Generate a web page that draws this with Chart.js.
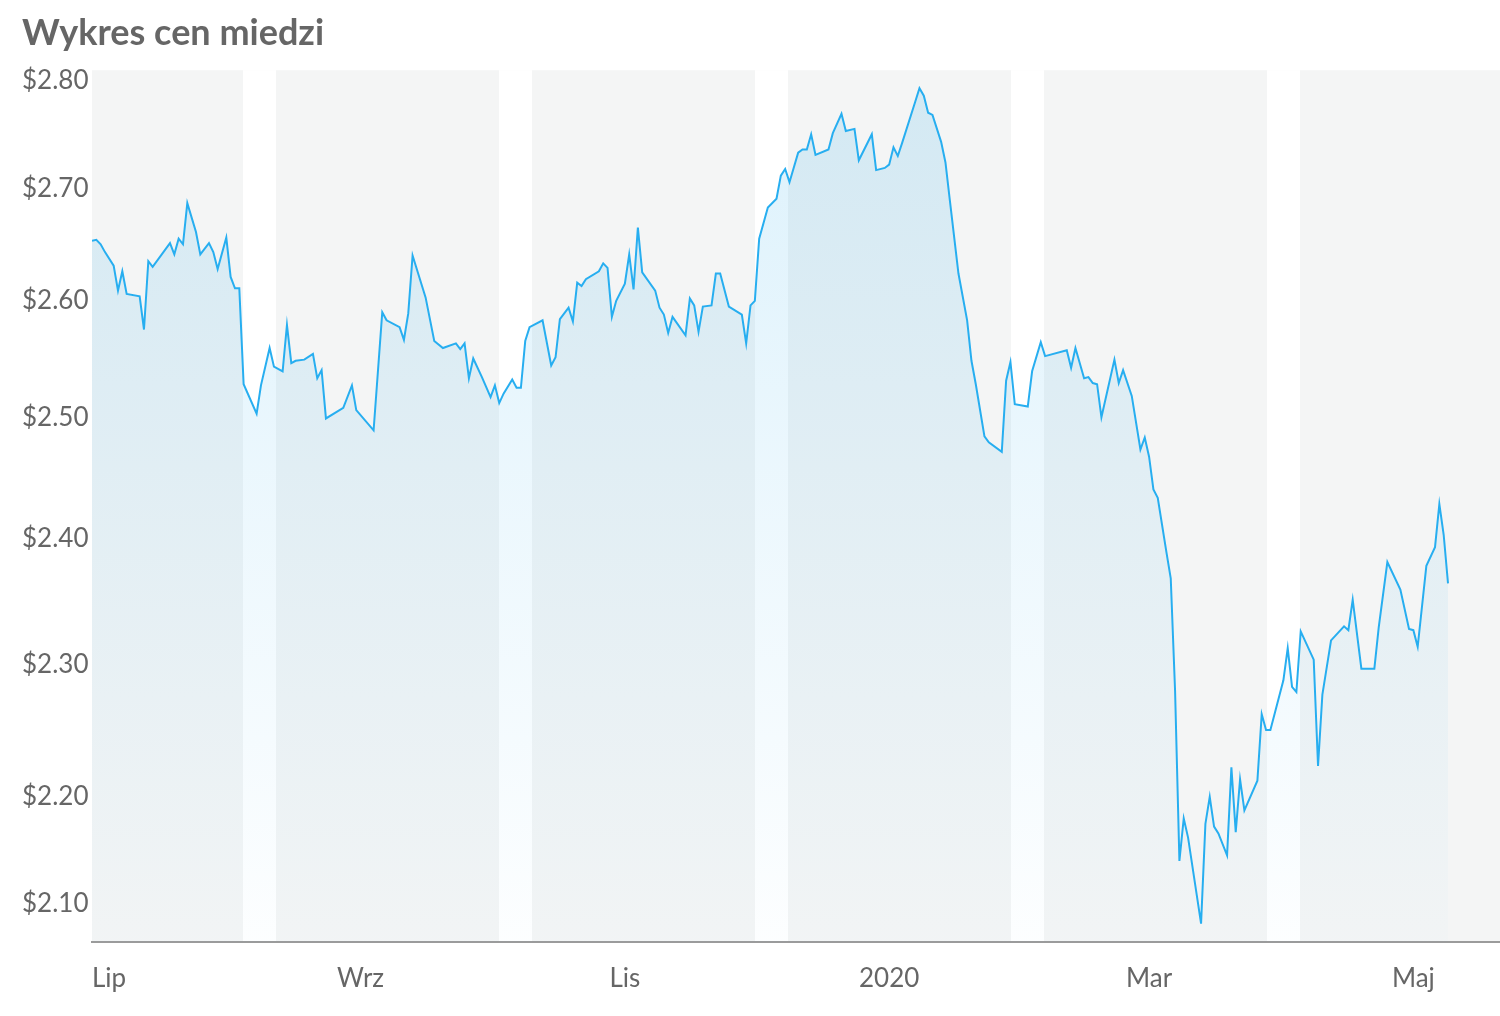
<!DOCTYPE html>
<html lang="pl">
<head>
<meta charset="UTF-8">
<title>Wykres cen miedzi</title>
<script src="https://cdn.jsdelivr.net/npm/chart.js@4.4.1/dist/chart.umd.min.js"></script>
<style>
  html, body { margin: 0; padding: 0; background: #fff; }
  canvas { display: block; }
</style>
</head>
<body>
<canvas id="copperChart" width="1500" height="1016"></canvas>
<script>
// price points (USD / lb)
const dates = [
  '2019-07-01','2019-07-02','2019-07-03','2019-07-04','2019-07-06','2019-07-07','2019-07-08','2019-07-09','2019-07-12','2019-07-13','2019-07-14','2019-07-15','2019-07-19','2019-07-20','2019-07-21','2019-07-22','2019-07-23','2019-07-25','2019-07-26','2019-07-28','2019-07-29','2019-07-30',
  '2019-08-01','2019-08-02','2019-08-03','2019-08-04','2019-08-05','2019-08-08','2019-08-09','2019-08-11','2019-08-12','2019-08-14','2019-08-15','2019-08-16','2019-08-17','2019-08-19','2019-08-21','2019-08-22','2019-08-23','2019-08-24','2019-08-28','2019-08-30','2019-08-31',
  '2019-09-04','2019-09-06','2019-09-07','2019-09-10','2019-09-11','2019-09-12','2019-09-13','2019-09-16','2019-09-18','2019-09-20','2019-09-23','2019-09-24','2019-09-25','2019-09-26','2019-09-27','2019-09-29',
  '2019-10-01','2019-10-02','2019-10-03','2019-10-04','2019-10-06','2019-10-07','2019-10-08','2019-10-09','2019-10-10','2019-10-13','2019-10-15','2019-10-16','2019-10-17','2019-10-19','2019-10-20','2019-10-21','2019-10-22','2019-10-23','2019-10-26','2019-10-27','2019-10-28','2019-10-29','2019-10-30',
  '2019-11-01','2019-11-02','2019-11-03','2019-11-04','2019-11-05','2019-11-08','2019-11-09','2019-11-10','2019-11-11','2019-11-12','2019-11-15','2019-11-16','2019-11-17','2019-11-18','2019-11-19','2019-11-21','2019-11-22','2019-11-23','2019-11-25','2019-11-28','2019-11-29','2019-11-30',
  '2019-12-01','2019-12-02','2019-12-04','2019-12-06','2019-12-07','2019-12-08','2019-12-09','2019-12-11','2019-12-12','2019-12-13','2019-12-14','2019-12-15','2019-12-18','2019-12-19','2019-12-21','2019-12-22','2019-12-24','2019-12-25','2019-12-28','2019-12-29','2019-12-31',
  '2020-01-01','2020-01-02','2020-01-03','2020-01-04','2020-01-07','2020-01-08','2020-01-09','2020-01-10','2020-01-11','2020-01-13','2020-01-14','2020-01-15','2020-01-17','2020-01-19','2020-01-20','2020-01-21','2020-01-23','2020-01-24','2020-01-27','2020-01-28','2020-01-29','2020-01-30',
  '2020-02-02','2020-02-03','2020-02-05','2020-02-06','2020-02-11','2020-02-12','2020-02-13','2020-02-15','2020-02-16','2020-02-17','2020-02-18','2020-02-19','2020-02-22','2020-02-23','2020-02-24','2020-02-26','2020-02-28','2020-02-29',
  '2020-03-01','2020-03-02','2020-03-03','2020-03-05','2020-03-06','2020-03-07','2020-03-08','2020-03-09','2020-03-10','2020-03-13','2020-03-14','2020-03-15','2020-03-16','2020-03-17','2020-03-19','2020-03-20','2020-03-21','2020-03-22','2020-03-23','2020-03-26','2020-03-27','2020-03-28','2020-03-29',
  '2020-04-01','2020-04-02','2020-04-03','2020-04-04','2020-04-05','2020-04-08','2020-04-09','2020-04-10','2020-04-12','2020-04-15','2020-04-16','2020-04-17','2020-04-19','2020-04-22','2020-04-23','2020-04-25','2020-04-28','2020-04-30',
  '2020-05-01','2020-05-02','2020-05-04','2020-05-06','2020-05-07','2020-05-08','2020-05-09'
];
const prices = [
  2.653,2.654,2.650,2.643,2.631,2.609,2.626,2.606,2.604,2.575,2.635,2.630,2.651,2.641,2.655,2.650,2.687,2.661,2.641,2.651,2.643,2.628,
  2.656,2.621,2.611,2.611,2.528,2.503,2.527,2.559,2.543,2.539,2.579,2.546,2.548,2.549,2.554,2.533,2.540,2.499,2.508,2.527,2.506,
  2.489,2.590,2.583,2.577,2.566,2.589,2.640,2.603,2.565,2.559,2.563,2.558,2.563,2.533,2.550,2.534,
  2.517,2.527,2.512,2.520,2.532,2.525,2.525,2.565,2.577,2.583,2.544,2.551,2.584,2.594,2.582,2.616,2.613,2.619,2.626,2.633,2.629,2.586,2.600,
  2.615,2.641,2.610,2.665,2.625,2.609,2.594,2.588,2.572,2.586,2.570,2.602,2.596,2.573,2.595,2.596,2.624,2.624,2.595,2.588,2.563,2.596,
  2.600,2.655,2.683,2.691,2.712,2.718,2.706,2.733,2.736,2.736,2.750,2.731,2.736,2.751,2.769,2.753,2.755,2.726,2.750,2.717,2.719,
  2.722,2.738,2.730,2.742,2.780,2.793,2.786,2.770,2.768,2.743,2.724,2.690,2.624,2.583,2.548,2.528,2.484,2.479,2.471,2.531,2.547,2.511,
  2.509,2.539,2.564,2.552,2.557,2.542,2.559,2.533,2.534,2.529,2.528,2.500,2.549,2.529,2.540,2.518,2.473,2.483,
  2.467,2.440,2.433,2.389,2.368,2.280,2.153,2.184,2.170,2.108,2.180,2.200,2.178,2.173,2.157,2.222,2.174,2.213,2.190,2.212,2.262,2.250,2.250,
  2.288,2.313,2.283,2.279,2.326,2.304,2.223,2.277,2.319,2.330,2.327,2.351,2.297,2.297,2.329,2.381,2.359,2.328,
  2.327,2.314,2.378,2.393,2.428,2.403,2.364
];

const xTickDates = ['2019-07-01', '2019-09-01', '2019-11-01', '2020-01-01', '2020-03-01', '2020-05-01'];
const xTickLabels = ['Lip', 'Wrz', 'Lis', '2020', 'Mar', 'Maj'];
const yTicks = [2.10, 2.20, 2.30, 2.40, 2.50, 2.60, 2.70, 2.80];
const rangeStart = '2019-07-01';
const rangeEnd = '2020-05-21';

function dayNum(s) {
  const [y, m, d] = s.split('-').map(Number);
  return (Date.UTC(y, m - 1, d) - Date.UTC(2019, 6, 1)) / 86400000;
}

// grey background with white vertical stripes
const bands = {
  id: 'bands',
  beforeDraw(chart) {
    const { ctx, chartArea: a } = chart;
    ctx.save();
    ctx.fillStyle = '#f4f5f5';
    ctx.fillRect(a.left, a.top, a.width, a.height);
    ctx.fillStyle = '#ffffff';
    for (let x = a.left + 151; x < a.right; x += 256) {
      ctx.fillRect(x, a.top, 33, a.height);
    }
    ctx.restore();
  }
};

const font = 'Lato';

new Chart(document.getElementById('copperChart'), {
  type: 'line',
  data: {
    datasets: [{
      data: dates.map((d, i) => ({ x: dayNum(d), y: prices[i] })),
      borderColor: '#27aef0',
      borderWidth: 2,
      pointRadius: 0,
      tension: 0,
      fill: 'start',
      backgroundColor: (c) => {
        const a = c.chart.chartArea;
        if (!a) return 'rgba(39,170,235,0.1)';
        const g = c.chart.ctx.createLinearGradient(0, a.top, 0, a.bottom);
        g.addColorStop(0, 'rgba(39,170,235,0.16)');
        g.addColorStop(1, 'rgba(39,170,235,0.01)');
        return g;
      }
    }]
  },
  options: {
    responsive: false,
    animation: false,
    devicePixelRatio: 1,
    layout: { padding: { left: 22, right: 0, top: 0, bottom: 0 } },
    plugins: {
      legend: { display: false },
      tooltip: { enabled: false },
      title: {
        display: true,
        text: 'Wykres cen miedzi',
        align: 'start',
        color: '#666666',
        font: { family: font, size: 36, weight: 'bold', lineHeight: 1.2 },
        padding: { top: 12, bottom: 15 }
      }
    },
    scales: {
      x: {
        type: 'linear',
        min: dayNum(rangeStart),
        max: dayNum(rangeEnd),
        grid: { display: false, drawTicks: false },
        border: { display: true, color: '#9b9b9b', width: 2 },
        afterBuildTicks: (s) => {
          s.ticks = xTickDates.map(d => ({ value: dayNum(d) })).concat([{ value: s.max }]);
        },
        afterFit: (s) => {
          s.height = 74;
          s.paddingLeft = 0;
          s.paddingRight = 0;
        },
        ticks: {
          autoSkip: false,
          maxRotation: 0,
          align: 'inner',
          padding: 21,
          color: '#666666',
          font: { family: font, size: 26 },
          callback: (v, i) => xTickLabels[i] || ''
        }
      },
      y: {
        type: 'logarithmic',
        min: 2.095,
        max: 2.81,
        grid: { display: false, drawTicks: false },
        border: { display: false },
        afterBuildTicks: (s) => {
          s.ticks = yTicks.map(v => ({ value: v }));
        },
        afterFit: (s) => { s.width = 70; },
        ticks: {
          crossAlign: 'far',
          padding: 0,
          color: '#666666',
          font: { family: font, size: 26 },
          callback: (v) => {
            const t = '$' + Number(v).toFixed(2);
            // lowest label sits one line higher, clear of the axis line
            return v === yTicks[0] ? [t, '', ''] : t;
          }
        }
      }
    }
  },
  plugins: [bands]
});
</script>
</body>
</html>
